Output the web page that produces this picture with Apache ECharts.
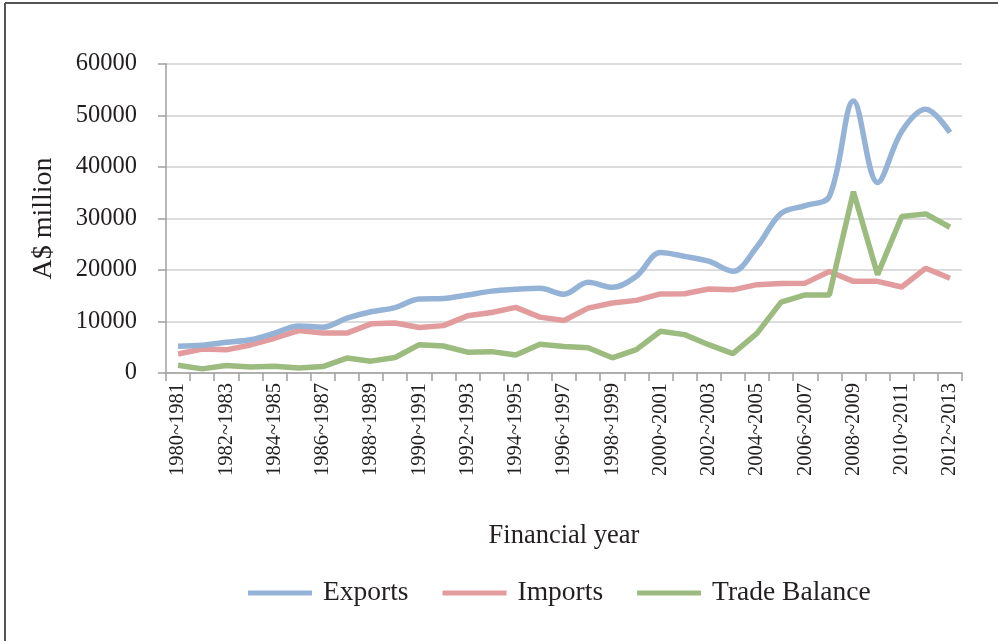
<!DOCTYPE html>
<html>
<head>
<meta charset="utf-8">
<script src="https://cdn.jsdelivr.net/npm/echarts@6/dist/echarts.min.js"></script>
<style>
html,body{margin:0;padding:0;background:#fff;}
#chart{width:998px;height:641px;}
</style>
</head>
<body>
<div id="chart"></div>
<script>
var categories = ["1980~1981","1981~1982","1982~1983","1983~1984","1984~1985","1985~1986","1986~1987","1987~1988","1988~1989","1989~1990","1990~1991","1991~1992","1992~1993","1993~1994","1994~1995","1995~1996","1996~1997","1997~1998","1998~1999","1999~2000","2000~2001","2001~2002","2002~2003","2003~2004","2004~2005","2005~2006","2006~2007","2007~2008","2008~2009","2009~2010","2010~2011","2011~2012","2012~2013"];
var exportsData = [5200, 5400, 5950, 6450, 7750, 9150, 8900, 10650, 11900, 12700, 14350, 14450, 15150, 15900, 16250, 16450, 15300, 17600, 16650, 18800, 23400, 22650, 21700, 19750, 24500, 31000, 32500, 34300, 52800, 37000, 46900, 51200, 46700];
var importsData = [3700, 4650, 4500, 5450, 6750, 8250, 7750, 7750, 9550, 9700, 8850, 9200, 11100, 11750, 12750, 10850, 10200, 12600, 13600, 14100, 15350, 15400, 16300, 16150, 17150, 17400, 17450, 19700, 17800, 17800, 16700, 20350, 18400];
var balanceData = [1500, 800, 1450, 1150, 1300, 950, 1250, 2900, 2300, 3000, 5500, 5250, 4050, 4150, 3500, 5600, 5150, 4900, 2950, 4550, 8100, 7450, 5500, 3750, 7700, 13750, 15150, 15150, 35200, 19100, 30400, 30900, 28300];
var seriesNames = ["Exports", "Imports", "Trade Balance"];
var yTicks = {min: 0, max: 60000, interval: 10000};

var FONT = '"Liberation Serif", "Times New Roman", serif';
var TXT = '#231f20';
var colors = ['#95b3d7', '#e39c9e', '#9bbb7f'];

var chart = echarts.init(document.getElementById('chart'), null, {renderer: 'canvas'});
chart.setOption({
  animation: false,
  backgroundColor: '#ffffff',
  color: colors,
  grid: {left: 166, right: 36, top: 64, bottom: 268, containLabel: false},
  graphic: [
    {type: 'line', shape: {x1: 5, y1: 3, x2: 998, y2: 3}, style: {stroke: '#555555', lineWidth: 2}},
    {type: 'line', shape: {x1: 5, y1: 3, x2: 5, y2: 641}, style: {stroke: '#555555', lineWidth: 2}}
  ],
  legend: {
    left: 243, top: 574,
    itemWidth: 64, itemHeight: 5, itemGap: 34,
    icon: 'rect',
    textStyle: {fontFamily: FONT, fontSize: 27.5, color: TXT, padding: [0, 0, 0, 6]},
    data: seriesNames
  },
  xAxis: {
    type: 'category',
    data: categories,
    boundaryGap: true,
    name: 'Financial year',
    nameLocation: 'middle',
    nameGap: 150,
    nameTextStyle: {fontFamily: FONT, fontSize: 26.5, color: TXT},
    axisLine: {lineStyle: {color: '#a0a0a0', width: 1.5}},
    axisTick: {show: true, interval: 0, length: 8, lineStyle: {color: '#a0a0a0', width: 1.5}},
    axisLabel: {interval: 1, rotate: 90, margin: 10, fontFamily: FONT, fontSize: 20.5, color: TXT},
    splitLine: {show: false}
  },
  yAxis: {
    type: 'value',
    min: yTicks.min, max: yTicks.max, interval: yTicks.interval,
    name: 'A$ million',
    nameLocation: 'middle',
    nameGap: 108,
    nameRotate: 90,
    nameTextStyle: {fontFamily: FONT, fontSize: 28, color: TXT},
    axisLine: {show: true, lineStyle: {color: '#a0a0a0', width: 1.5}},
    axisTick: {show: true, length: 8, lineStyle: {color: '#a0a0a0', width: 1.5}},
    axisLabel: {margin: 29, fontFamily: FONT, fontSize: 24.5, color: TXT, formatter: function (v) { return String(v); }},
    splitLine: {lineStyle: {color: '#d0d0d0', width: 1.5}}
  },
  series: [
    {name: seriesNames[0], type: 'line', data: exportsData, smooth: 0.35, showSymbol: false, symbol: 'none', lineStyle: {width: 5.5, color: colors[0]}, z: 3},
    {name: seriesNames[1], type: 'line', data: importsData, smooth: false, showSymbol: false, symbol: 'none', lineStyle: {width: 5.5, color: colors[1]}, z: 2},
    {name: seriesNames[2], type: 'line', data: balanceData, smooth: false, showSymbol: false, symbol: 'none', lineStyle: {width: 5.5, color: colors[2]}, z: 4}
  ]
});
</script>
</body>
</html>
